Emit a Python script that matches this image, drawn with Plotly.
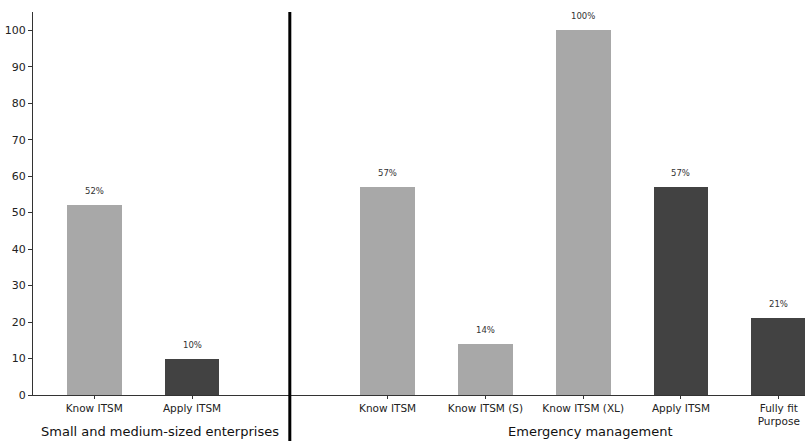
import plotly.graph_objects as go

# Survey results: share of respondents per question, in percent
sme_categories = ["Know ITSM", "Apply ITSM"]
sme_values = [52, 10]
sme_kinds = ["know", "apply"]

em_categories = ["Know ITSM", "Know ITSM (S)", "Know ITSM (XL)", "Apply ITSM", "Fully fit<br>Purpose"]
em_values = [57, 14, 100, 57, 21]
em_kinds = ["know", "know", "know", "apply", "apply"]

group_titles = ["Small and medium-sized enterprises", "Emergency management"]
y_ticks = [0, 10, 20, 30, 40, 50, 60, 70, 80, 90, 100]

colors = {"know": "#a8a8a8", "apply": "#424242"}
font_family = "DejaVu Sans"

# slot 2 on the shared x axis is kept empty for the divider between the two groups
sme_pos = list(range(len(sme_categories)))
divider_pos = len(sme_categories)
em_pos = [divider_pos + 1 + i for i in range(len(em_categories))]

positions = sme_pos + em_pos
values = sme_values + em_values
kinds = sme_kinds + em_kinds
labels = sme_categories + em_categories

fig = go.Figure()
fig.add_trace(go.Bar(
    x=positions,
    y=values,
    width=0.56,
    marker=dict(color=[colors[k] for k in kinds], line=dict(width=0)),
    hoverinfo="skip",
    showlegend=False,
))

# percentage labels above each bar
for p, v in zip(positions, values):
    fig.add_annotation(
        x=p, y=v, text=f"{v}%", showarrow=False,
        yanchor="bottom", yshift=7,
        font=dict(family=font_family, size=8.5, color="#333333"),
    )

# divider between the two groups
fig.add_shape(
    type="line", xref="x", yref="paper",
    x0=divider_pos, x1=divider_pos, y0=-0.13, y1=1.0,
    line=dict(color="#000000", width=3),
)

# group titles under the category labels
title_x = [0.67, 5.07]
for title, cx in zip(group_titles, title_x):
    fig.add_annotation(
        x=cx, xref="x", y=0, yref="paper", yshift=-36,
        text=title, showarrow=False, yanchor="middle",
        font=dict(family=font_family, size=13, color="#111111"),
    )

fig.update_layout(
    width=805, height=441,
    margin=dict(l=33, r=0, t=12, b=46),
    paper_bgcolor="white", plot_bgcolor="white",
    font=dict(family=font_family, color="#222222"),
    bargap=0,
    xaxis=dict(
        range=[-0.626, 7.268],
        tickmode="array", tickvals=positions, ticktext=labels,
        tickfont=dict(size=10.5, color="#222222"),
        showline=True, linecolor="#333333", linewidth=1,
        ticks="outside", ticklen=3, tickcolor="#333333",
        showgrid=False, zeroline=False, fixedrange=True,
    ),
    yaxis=dict(
        range=[0, 105],
        tickmode="array", tickvals=y_ticks,
        tickfont=dict(size=11, color="#222222"),
        showline=True, linecolor="#333333", linewidth=1,
        ticks="outside", ticklen=4, tickcolor="#333333",
        showgrid=False, zeroline=False, fixedrange=True,
    ),
)

fig.write_html("out.html")
